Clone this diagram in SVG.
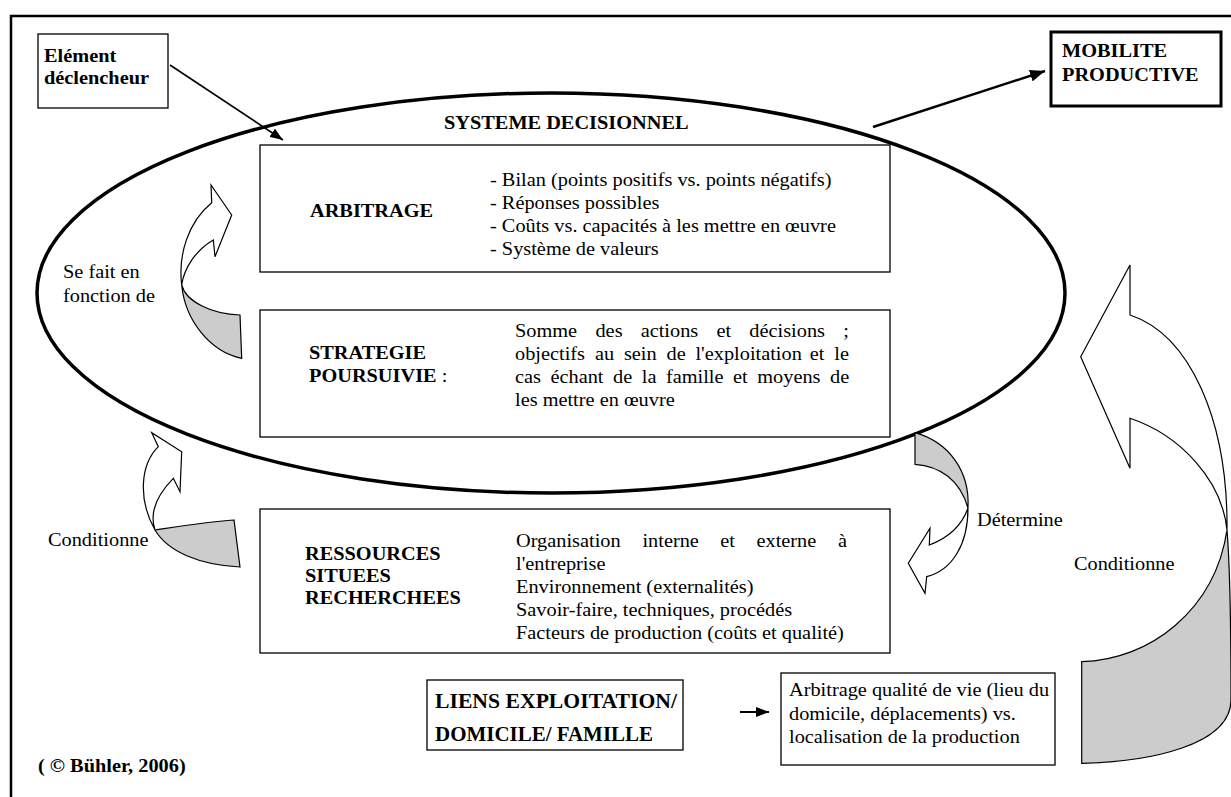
<svg xmlns="http://www.w3.org/2000/svg" width="1231" height="797" viewBox="0 0 1231 797">
<style>
.t{font-family:'Liberation Serif','Tinos','Times New Roman','Nimbus Roman',serif;font-size:18px;fill:#000}
.b{font-weight:bold}
.box{fill:#fff;stroke:#000;stroke-width:1.3}
.arw{fill:#fff;stroke:#000;stroke-width:1.2;stroke-linejoin:miter}
.sh{fill:#cccccc;stroke:#000;stroke-width:1.2}
.ln{stroke:#000;fill:none}
</style>
<defs>
<marker id="ah" markerUnits="userSpaceOnUse" markerWidth="14" markerHeight="10" refX="13" refY="5" orient="auto"><path d="M0,0 L13,5 L0,10 Z" fill="#000"/></marker>
<marker id="ahb" markerUnits="userSpaceOnUse" markerWidth="16" markerHeight="12" refX="15" refY="6" orient="auto"><path d="M0,0 L15,6 L0,12 Z" fill="#000"/></marker>
</defs>
<rect x="0" y="0" width="1231" height="797" fill="#fff"/>
<rect id="frame" x="11" y="16" width="1240" height="800" fill="none" stroke="#000" stroke-width="2.5"/>

<g id="systeme">
<ellipse cx="551" cy="293" rx="514" ry="200" fill="none" stroke="#000" stroke-width="3.5"/>
<text class="t b" transform="matrix(1.13 0 0 1 444 129)">SYSTEME DECISIONNEL</text>
</g>

<g id="element">
<rect class="box" x="38" y="34" width="130" height="74"/>
<text class="t b" transform="matrix(1.13 0 0 1 44 62)">Elément</text>
<text class="t b" transform="matrix(1.13 0 0 1 44 84)">déclencheur</text>
</g>

<g id="mobilite">
<rect x="1051" y="32" width="170" height="74" fill="#fff" stroke="#000" stroke-width="3"/>
<text class="t b" transform="matrix(1.13 0 0 1 1062 57)">MOBILITE</text>
<text class="t b" transform="matrix(1.13 0 0 1 1062 81)">PRODUCTIVE</text>
</g>

<g id="arbitrage">
<rect class="box" x="260" y="145" width="630" height="127"/>
<text class="t b" transform="matrix(1.13 0 0 1 310 217)">ARBITRAGE</text>
<text class="t" transform="matrix(1.13 0 0 1 490 186)">- Bilan (points positifs vs. points négatifs)</text>
<text class="t" transform="matrix(1.13 0 0 1 490 209)">- Réponses possibles</text>
<text class="t" transform="matrix(1.13 0 0 1 490 232)">- Coûts vs. capacités à les mettre en œuvre</text>
<text class="t" transform="matrix(1.13 0 0 1 490 255)">- Système de valeurs</text>
</g>

<g id="strategie">
<rect class="box" x="260" y="310" width="630" height="127"/>
<text class="t b" transform="matrix(1.13 0 0 1 309 359)">STRATEGIE</text>
<text class="t" transform="matrix(1.13 0 0 1 309 382)"><tspan class="b">POURSUIVIE</tspan> :</text>
<text class="t" transform="matrix(1.13 0 0 1 515 337)"><tspan x="0">Somme</tspan><tspan x="71.2">des</tspan><tspan x="111.2">actions</tspan><tspan x="178.3">et</tspan><tspan x="207.4">décisions</tspan><tspan x="290.5">;</tspan></text>
<text class="t" transform="matrix(1.13 0 0 1 515 360)"><tspan x="0">objectifs</tspan><tspan x="70.7">au</tspan><tspan x="96.4">sein</tspan><tspan x="134.1">de</tspan><tspan x="159.7">l'exploitation</tspan><tspan x="260.9">et</tspan><tspan x="282.6">le</tspan></text>
<text class="t" transform="matrix(1.13 0 0 1 515 383)"><tspan x="0">cas</tspan><tspan x="31.4">échant</tspan><tspan x="86.8">de</tspan><tspan x="112.2">la</tspan><tspan x="133.6">famille</tspan><tspan x="193">et</tspan><tspan x="214.4">moyens</tspan><tspan x="278.8">de</tspan></text>
<text class="t" transform="matrix(1.13 0 0 1 515 406)">les mettre en œuvre</text>
</g>

<g id="ressources">
<rect class="box" x="260" y="509" width="630" height="144"/>
<text class="t b" transform="matrix(1.13 0 0 1 305 560)">RESSOURCES</text>
<text class="t b" transform="matrix(1.13 0 0 1 305 582)">SITUEES</text>
<text class="t b" transform="matrix(1.13 0 0 1 305 604)">RECHERCHEES</text>
<text class="t" transform="matrix(1.13 0 0 1 516 547)"><tspan x="0">Organisation</tspan><tspan x="111.9">interne</tspan><tspan x="180.8">et</tspan><tspan x="212.8">externe</tspan><tspan x="285">à</tspan></text>
<text class="t" transform="matrix(1.13 0 0 1 516 570)">l'entreprise</text>
<text class="t" transform="matrix(1.13 0 0 1 516 593)">Environnement (externalités)</text>
<text class="t" transform="matrix(1.13 0 0 1 516 616)">Savoir-faire, techniques, procédés</text>
<text class="t" transform="matrix(1.13 0 0 1 516 639)">Facteurs de production (coûts et qualité)</text>
</g>

<g id="liens">
<rect class="box" x="427" y="680" width="256" height="70"/>
<text class="t b" style="font-size:22px" x="435" y="708" textLength="242" lengthAdjust="spacingAndGlyphs">LIENS EXPLOITATION/</text>
<text class="t b" style="font-size:22px" x="435" y="741" textLength="218" lengthAdjust="spacingAndGlyphs">DOMICILE/ FAMILLE</text>
</g>

<g id="arbitrage-vie">
<rect class="box" x="781" y="673" width="274" height="92"/>
<text class="t" transform="matrix(1.13 0 0 1 789 696)">Arbitrage qualité de vie (lieu du</text>
<text class="t" transform="matrix(1.13 0 0 1 789 720)">domicile, déplacements) vs.</text>
<text class="t" transform="matrix(1.13 0 0 1 789 743)">localisation de la production</text>
</g>

<g id="labels">
<text class="t" transform="matrix(1.13 0 0 1 63 278)">Se fait en</text>
<text class="t" transform="matrix(1.13 0 0 1 63 302)">fonction de</text>
<text class="t" transform="matrix(1.13 0 0 1 48 546)">Conditionne</text>
<text class="t" transform="matrix(1.13 0 0 1 977 526)">Détermine</text>
<text class="t" transform="matrix(1.13 0 0 1 1074 570)">Conditionne</text>
<text class="t b" transform="matrix(1.13 0 0 1 38 772)">( © Bühler, 2006)</text>
</g>

<g id="connectors">
<line class="ln" x1="170" y1="65" x2="283" y2="140" stroke-width="1.6" marker-end="url(#ah)"/>
<line class="ln" x1="873" y1="127" x2="1045" y2="71" stroke-width="2.5" marker-end="url(#ahb)"/>
<line class="ln" x1="740" y1="712" x2="769" y2="712" stroke-width="2" marker-end="url(#ah)"/>

<g id="arrow-sefait">
<path class="arw" d="M181.7,285 C178,255 188,222 211.7,202.7 L211,185 L231.7,215 L215,256.7 L213.3,240 C196,250 184,268 181.7,285 Z"/>
<path class="sh" d="M181.7,285 C186,302 212,314 240,315 L241.7,358.3 C210,352 185,320 181.7,285 Z"/>
</g>

<g id="arrow-cond-left">
<path class="arw" d="M155,530 C150,515 154,498 173.3,478.3 L180,491.7 L181.7,451.7 L151.7,432.7 L158.3,446.7 C140,465 138,500 155,530 Z"/>
<path class="sh" d="M155,530 C175,527 205,522 234,520 L240,567 C200,565 168,552 155,530 Z"/>
</g>

<g id="arrow-determine">
<path class="sh" d="M915,432.7 C948,442 970,470 968,508 C960,480 940,466 915,464.3 Z"/>
<path class="arw" d="M968,508 C968,545 952,570 926.7,576.7 L925,593.3 L908.3,563.3 L930,528.3 L929.3,545 C948,538 962,525 968,508 Z"/>
</g>

<g id="arrow-cond-right">
<path class="arw" d="M1130,315 C1190,335 1228,420 1227,530 C1222,480 1180,435 1130,418.3 L1130,468.3 L1080.7,356.7 L1130,265 Z"/>
<path class="sh" d="M1227,530 C1231,580 1231,650 1231,700 C1231,745 1150,762 1081.7,763.3 L1081.7,661.7 C1150,660 1215,610 1227,530 Z"/>
</g>
</g>
</svg>
